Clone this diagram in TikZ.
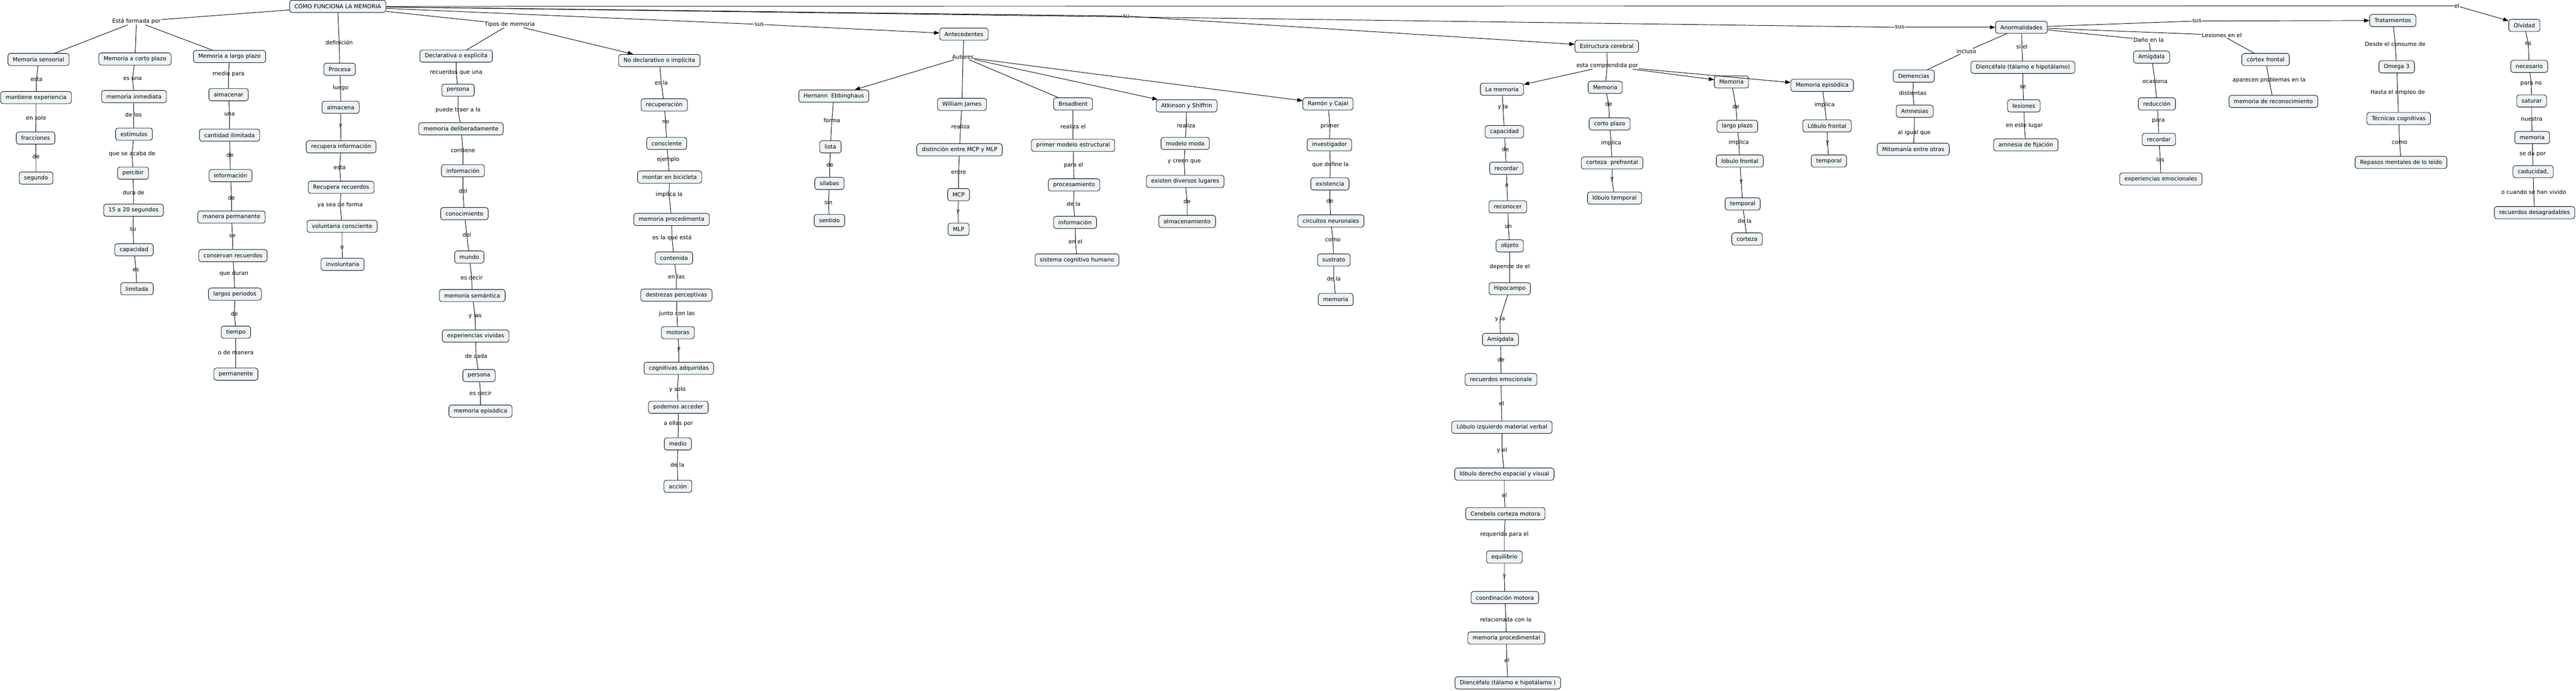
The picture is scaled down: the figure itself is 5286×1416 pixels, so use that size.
\documentclass[tikz,border=0pt]{standalone}
\usepackage{fontspec}
\setmainfont{DejaVu Sans}
\usetikzlibrary{arrows.meta}
\definecolor{cfill}{RGB}{236,243,246}
\tikzset{
  concept/.style={draw=black, line width=0.9pt, rounded corners=5pt, fill=cfill, font=\fontsize{11.5}{13}\selectfont, inner xsep=10pt, inner ysep=4pt, minimum height=25pt},
  phrase/.style={font=\fontsize{11.5}{13}\selectfont, inner sep=1pt},
  link/.style={draw=black, line width=1pt},
  flecha/.style={link, -{Triangle[length=11pt,width=8pt]}}
}
\newcommand{\rama}[3][link]{\foreach \cx in {#3} {\draw[#1] (#2) -- (\cx);}}

\begin{document}
\begin{tikzpicture}[x=1pt, y=-1pt]
\useasboundingbox (0,0) rectangle (5286,1416);
\node[concept] (R) at (693,13) {COMO FUNCIONA LA MEMORIA};

\node[phrase] (f0) at (280,44) {Está formada por};
\node[concept] (ms) at (79,122) {Memoria sensorial};
 \node[phrase] (s1) at (75,163) {esta};
\node[concept] (me) at (74,200) {mantiene experiencia};
 \node[phrase] (s2) at (74,242) {en solo};
\node[concept] (fr) at (73,283) {fracciones};
 \node[phrase] (s3) at (74,321) {de};
\node[concept] (sg) at (74,365) {segundo};

\node[concept] (mc) at (277,121) {Memoria a corto plazo};
 \node[phrase] (c1) at (272,161) {es una};
\node[concept] (mi) at (275,198) {memoria inmediata};
 \node[phrase] (c2) at (274,235) {de los};
\node[concept] (est) at (275,275) {estímulos};
 \node[phrase] (c3) at (271,316) {que se acaba de};
\node[concept] (pe) at (273,355) {percibir};
 \node[phrase] (c4) at (274,395) {dura de};
\node[concept] (qs) at (274,431) {15 a 20 segundos};
 \node[phrase] (c5) at (273,470) {su};
\node[concept] (ca) at (275,512) {capacidad};
 \node[phrase] (c6) at (279,553) {es};
\node[concept] (li) at (281,592) {limitada};

\node[concept] (ml) at (471,116) {Memoria a largo plazo};
 \node[phrase] (g1) at (469,152) {medio para};
\node[concept] (al) at (469,194) {almacenar};
 \node[phrase] (g2) at (471,234) {una};
\node[concept] (ci) at (471,277) {cantidad ilimitada};
 \node[phrase] (g3) at (472,318) {de};
\node[concept] (inf) at (473,360) {información};
 \node[phrase] (g4) at (475,405) {de};
\node[concept] (mp) at (475,445) {manera permanente};
 \node[phrase] (g5) at (477,484) {se};
\node[concept] (cr) at (478,524) {conservan recuerdos};
 \node[phrase] (g6) at (480,561) {que duran};
\node[concept] (lp) at (482,603) {largos periodos};
 \node[phrase] (g7) at (481,643) {de};
\node[concept] (ti) at (484,681) {tiempo};
 \node[phrase] (g8) at (484,723) {o de manera};
\node[concept] (pm) at (484,767) {permanente};

\node[phrase] (d0) at (696,87) {definición};
\node[concept] (pr) at (697,142) {Procesa};
 \node[phrase] (d1) at (699,180) {luego};
\node[concept] (am) at (699,220) {almacena};
 \node[phrase] (d2) at (699,259) {y};
\node[concept] (ri) at (700,301) {recupera información};
 \node[phrase] (d3) at (697,343) {esta};
\node[concept] (rr) at (700,384) {Recupera recuerdos};
 \node[phrase] (d4) at (698,420) {ya sea de forma};
\node[concept] (vc) at (702,464) {voluntaria consciente};
 \node[phrase] (d5) at (702,507) {o};
\node[concept] (iv) at (703,542) {involuntaria};

\node[phrase] (t0) at (1046,50) {Tipos de memoria};
\node[concept] (de) at (936,115) {Declarativa o explicita};
 \node[phrase] (e1) at (936,149) {recuerdos que una};
\node[concept] (p1) at (940,185) {persona};
 \node[phrase] (e2) at (940,226) {puede traer a la};
\node[concept] (md) at (946,264) {memoria deliberadamente};
 \node[phrase] (e3) at (950,308) {contiene};
\node[concept] (i2) at (950,350) {información};
 \node[phrase] (e4) at (950,392) {del};
\node[concept] (co) at (953,438) {conocimiento};
 \node[phrase] (e5) at (958,482) {del};
\node[concept] (mu) at (963,527) {mundo};
 \node[phrase] (e6) at (968,569) {es decir};
\node[concept] (sem) at (969,606) {memoria semántica};
 \node[phrase] (e7) at (975,647) {y las};
\node[concept] (ev) at (976,689) {experiencias vividas};
 \node[phrase] (e8) at (977,730) {de cada};
\node[concept] (p2) at (983,770) {persona};
 \node[phrase] (e9) at (986,806) {es decir};
\node[concept] (epi) at (986,843) {memoria episódica};

\node[concept] (nd) at (1353,124) {No declarativo o implícita};
 \node[phrase] (n1) at (1357,170) {es la};
\node[concept] (rc) at (1363,215) {recuperación};
 \node[phrase] (n2) at (1366,250) {no};
\node[concept] (cs) at (1368,294) {consciente};
 \node[phrase] (n3) at (1371,327) {ejemplo};
\node[concept] (mb) at (1374,363) {montar en bicicleta};
 \node[phrase] (n4) at (1373,399) {implica la};
\node[concept] (mpr) at (1378,450) {memoria procedimenta};
 \node[phrase] (n5) at (1379,488) {es la que está};
\node[concept] (ct) at (1383,529) {contenida};
 \node[phrase] (n6) at (1388,567) {en las};
\node[concept] (dp) at (1388,605) {destrezas perceptivas};
 \node[phrase] (n7) at (1389,643) {junto con las};
\node[concept] (mo) at (1391,682) {motoras};
 \node[phrase] (n8) at (1393,716) {y};
\node[concept] (cg) at (1393,755) {cognitivas adquiridas};
 \node[phrase] (n9) at (1390,799) {y solo};
\node[concept] (pa) at (1392,835) {podemos acceder};
 \node[phrase] (n10) at (1392,869) {a ellas por};
\node[concept] (mdo) at (1391,910) {medio};
 \node[phrase] (n11) at (1390,953) {de la};
\node[concept] (ac) at (1391,997) {acción};

\node[phrase] (a0) at (1558,50) {sus};
\node[concept] (an) at (1978,70) {Antecedentes};
\node[phrase] (a1) at (1976,117) {Autores};
\node[concept] (he) at (1711,197) {Hernann~ Ebbinghaus};
 \node[phrase] (h1) at (1707,247) {forma};
\node[concept] (ls) at (1704,301) {lista};
 \node[phrase] (h2) at (1703,338) {de};
\node[concept] (si) at (1702,376) {sílabas};
 \node[phrase] (h3) at (1700,415) {sin};
\node[concept] (se) at (1702,452) {sentido};

\node[concept] (wj) at (1974,214) {William James};
 \node[phrase] (w1) at (1971,260) {realiza};
\node[concept] (dm) at (1969,307) {distinción entre MCP y MLP};
 \node[phrase] (w2) at (1967,353) {entre};
\node[concept] (mcp) at (1967,399) {MCP};
 \node[phrase] (w3) at (1966,434) {y};
\node[concept] (mlp) at (1967,470) {MLP};

\node[concept] (bb) at (2202,213) {Broadbent};
 \node[phrase] (b1) at (2202,259) {realiza el};
\node[concept] (pme) at (2202,298) {primer modelo estructural};
 \node[phrase] (b2) at (2203,339) {para el};
\node[concept] (pc) at (2204,379) {procesamiento};
 \node[phrase] (b3) at (2203,418) {de la};
\node[concept] (i3) at (2206,456) {información};
 \node[phrase] (b4) at (2207,495) {en el};
\node[concept] (sc) at (2210,533) {sistema cognitivo humano};

\node[concept] (ak) at (2435,217) {Atkinson y Shiffrin};
 \node[phrase] (k1) at (2434,257) {realiza};
\node[concept] (mm) at (2432,294) {modelo moda};
 \node[phrase] (k2) at (2430,332) {y creen que};
\node[concept] (ed) at (2432,372) {existen diversos lugares};
 \node[phrase] (k3) at (2436,413) {de};
\node[concept] (alm) at (2436,454) {almacenamiento};

\node[concept] (rj) at (2725,213) {Ramón y Cajal};
 \node[phrase] (r1) at (2729,258) {primer};
\node[concept] (inv) at (2728,297) {investigador};
 \node[phrase] (r2) at (2730,338) {que define la};
\node[concept] (ex) at (2729,377) {existencia};
 \node[phrase] (r3) at (2729,412) {de};
\node[concept] (cn) at (2731,453) {circuitos neuronales};
 \node[phrase] (r4) at (2735,492) {como};
\node[concept] (sus) at (2737,533) {sustrato};
 \node[phrase] (r5) at (2737,571) {de la};
\node[concept] (mem) at (2741,614) {memoria};

\node[phrase] (u0) at (2311,33) {su};
\node[concept] (ec) at (3297,95) {Estructura cerebral};
\node[phrase] (u1) at (3298,135) {esta comprendida por};
\node[concept] (lm) at (3082,183) {La memoria};
 \node[phrase] (m1) at (3084,219) {y la};
\node[concept] (cp) at (3087,270) {capacidad};
 \node[phrase] (m2) at (3089,306) {de};
\node[concept] (rd) at (3091,345) {recordar};
 \node[phrase] (m3) at (3092,380) {o};
\node[concept] (rn) at (3094,424) {reconocer};
 \node[phrase] (m4) at (3095,465) {un};
\node[concept] (ob) at (3098,504) {objeto};
 \node[phrase] (m5) at (3098,547) {depende de el};
\node[concept] (hp) at (3098,592) {Hipocampo};
 \node[phrase] (m6) at (3078,654) {y la};
\node[concept] (ag) at (3079,696) {Amígdala};
 \node[phrase] (m7) at (3080,737) {de};
\node[concept] (re) at (3080,778) {recuerdos emocionale};
 \node[phrase] (m8) at (3081,827) {el};
\node[concept] (liz) at (3082,876) {Lóbulo izquierdo material verbal};
 \node[phrase] (m9) at (3082,923) {y el};
\node[concept] (lde) at (3087,972) {lóbulo derecho espacial y visual};
 \node[phrase] (m10) at (3087,1015) {el};
\node[concept] (cc) at (3089,1053) {Cerebelo corteza motora};
 \node[phrase] (m11) at (3087,1096) {requerida para el};
\node[concept] (eq) at (3087,1142) {equilibrio};
 \node[phrase] (m12) at (3087,1182) {y};
\node[concept] (cm) at (3088,1225) {coordinación motora};
 \node[phrase] (m13) at (3090,1270) {relacionada con la};
\node[concept] (mpl) at (3091,1308) {memoria procedimental};
 \node[phrase] (m14) at (3092,1354) {el};
\node[concept] (di) at (3094,1400) {Diencéfalo (tálamo e hipotálamo~)};

\node[concept] (mcz) at (3294,179) {Memoria};
 \node[phrase] (q1) at (3301,213) {de};
\node[concept] (cpz) at (3303,254) {corto plazo};
 \node[phrase] (q2) at (3306,293) {implica};
\node[concept] (cpf) at (3308,334) {corteza~ prefrontal};
 \node[phrase] (q3) at (3308,368) {y};
\node[concept] (lt) at (3313,406) {lóbulo temporal};

\node[concept] (mlz) at (3553,168) {Memoria};
 \node[phrase] (v1) at (3562,218) {de};
\node[concept] (lpz) at (3565,259) {largo plazo};
 \node[phrase] (v2) at (3568,292) {implica};
\node[concept] (lf) at (3570,330) {lóbulo frontal};
 \node[phrase] (v3) at (3573,373) {y};
\node[concept] (tp) at (3576,418) {temporal};
 \node[phrase] (v4) at (3580,453) {de la};
\node[concept] (cz) at (3585,490) {corteza};

\node[concept] (mep) at (3739,175) {Memoria episódica};
 \node[phrase] (x1) at (3744,215) {implica};
\node[concept] (lf2) at (3749,258) {Lóbulo frontal};
 \node[phrase] (x2) at (3750,293) {y};
\node[concept] (tp2) at (3753,330) {temporal};

\node[phrase] (z0) at (3898,56) {sus};
\node[concept] (ab) at (4148,56) {Anormalidades};
\node[phrase] (z1) at (4035,105) {incluso};
\node[concept] (dc) at (3927,156) {Demencias};
 \node[phrase] (z2) at (3925,191) {distientas};
\node[concept] (amn) at (3929,228) {Amnesias};
 \node[phrase] (z3) at (3928,272) {al igual que};
\node[concept] (mit) at (3926,306) {Mitomanía entre otras};
\node[phrase] (z4) at (4149,96) {si el};
\node[concept] (dcf) at (4151,138) {Diencéfalo (tálamo e hipotálamo)};
 \node[phrase] (z5) at (4151,178) {se};
\node[concept] (les) at (4153,217) {lesiones};
 \node[phrase] (z6) at (4154,257) {en este lugar};
\node[concept] (af) at (4157,297) {amnesia de fijación};

\node[phrase] (z7) at (4409,82) {Daño en la};
\node[concept] (ag2) at (4415,117) {Amígdala};
 \node[phrase] (z8) at (4422,166) {ocasiona};
\node[concept] (rdc) at (4426,213) {reducción};
 \node[phrase] (z9) at (4429,248) {para};
\node[concept] (rd2) at (4430,286) {recordar};
 \node[phrase] (z10) at (4433,327) {las};
\node[concept] (ee) at (4434,367) {experiencias emocionales};
\node[phrase] (z11) at (4559,72) {Lesiones en el};
\node[concept] (cf) at (4649,122) {córtex frontal};
 \node[phrase] (z12) at (4656,164) {aparecen problemas en la};
\node[concept] (mr) at (4665,208) {memoria de reconocimiento};

\node[phrase] (y0) at (4508,43) {sus};
\node[concept] (tr) at (4910,42) {Tratamientos};
 \node[phrase] (y1) at (4915,90) {Desde el consumo de};
\node[concept] (om) at (4918,137) {Omega 3};
 \node[phrase] (y2) at (4920,190) {Hasta el empleo de};
\node[concept] (tc) at (4922,243) {Técnicas cognitivas};
 \node[phrase] (y3) at (4924,292) {como};
\node[concept] (rm) at (4927,333) {Repasos mentales de lo leído};

\node[phrase] (o0) at (5041,12) {el};
\node[concept] (ol) at (5180,52) {Olvidad};
 \node[phrase] (o1) at (5188,89) {es};
\node[concept] (ne) at (5190,136) {necesario};
 \node[phrase] (o2) at (5194,172) {para no};
\node[concept] (sa) at (5195,207) {saturar};
 \node[phrase] (o3) at (5195,244) {nuestra};
\node[concept] (mo2) at (5196,282) {memoria};
 \node[phrase] (o4) at (5197,316) {se da por};
\node[concept] (cd) at (5198,352) {caducidad,};
 \node[phrase] (o5) at (5199,394) {o cuando se han vivido};
\node[concept] (rdg) at (5201,436) {recuerdos desagradables};

\foreach \ca/\ph/\cb in {ms/s1/me, me/s2/fr, fr/s3/sg,
  mc/c1/mi, mi/c2/est, est/c3/pe, pe/c4/qs, qs/c5/ca, ca/c6/li,
  ml/g1/al, al/g2/ci, ci/g3/inf, inf/g4/mp, mp/g5/cr, cr/g6/lp, lp/g7/ti, ti/g8/pm,
  R/d0/pr, pr/d1/am, am/d2/ri, ri/d3/rr, rr/d4/vc, vc/d5/iv,
  de/e1/p1, p1/e2/md, md/e3/i2, i2/e4/co, co/e5/mu, mu/e6/sem, sem/e7/ev, ev/e8/p2, p2/e9/epi,
  nd/n1/rc, rc/n2/cs, cs/n3/mb, mb/n4/mpr, mpr/n5/ct, ct/n6/dp, dp/n7/mo, mo/n8/cg, cg/n9/pa, pa/n10/mdo, mdo/n11/ac,
  an/a1/wj, he/h1/ls, ls/h2/si, si/h3/se,
  wj/w1/dm, dm/w2/mcp, mcp/w3/mlp,
  bb/b1/pme, pme/b2/pc, pc/b3/i3, i3/b4/sc,
  ak/k1/mm, mm/k2/ed, ed/k3/alm,
  rj/r1/inv, inv/r2/ex, ex/r3/cn, cn/r4/sus, sus/r5/mem,
  ec/u1/mcz, lm/m1/cp, cp/m2/rd, rd/m3/rn, rn/m4/ob, ob/m5/hp, hp/m6/ag, ag/m7/re,
  re/m8/liz, liz/m9/lde, lde/m10/cc, cc/m11/eq, eq/m12/cm, cm/m13/mpl, mpl/m14/di,
  mcz/q1/cpz, cpz/q2/cpf, cpf/q3/lt,
  mlz/v1/lpz, lpz/v2/lf, lf/v3/tp, tp/v4/cz,
  mep/x1/lf2, lf2/x2/tp2,
  dc/z2/amn, amn/z3/mit, ab/z4/dcf, dcf/z5/les, les/z6/af,
  ag2/z8/rdc, rdc/z9/rd2, rd2/z10/ee, cf/z12/mr,
  tr/y1/om, om/y2/tc, tc/y3/rm,
  ol/o1/ne, ne/o2/sa, sa/o3/mo2, mo2/o4/cd, cd/o5/rdg}
  \draw[link] (\ca) -- (\ph.center) -- (\cb);

\rama{R}{f0,t0,a0,u0,z0,o0}
\rama{f0}{ms,mc,ml}
\rama{t0}{de}
\rama[flecha]{t0}{nd}
\rama[flecha]{a0}{an}
\rama{a1}{bb}
\rama[flecha]{a1}{he,ak,rj}
\rama[flecha]{u0}{ec}
\rama[flecha]{u1}{lm,mlz,mep}
\rama[flecha]{z0}{ab}
\rama{ab}{z1,z7,z11,y0}
\rama{z1}{dc}
\rama{z7}{ag2}
\rama{z11}{cf}
\rama[flecha]{y0}{tr}
\rama[flecha]{o0}{ol}
\end{tikzpicture}
\end{document}
